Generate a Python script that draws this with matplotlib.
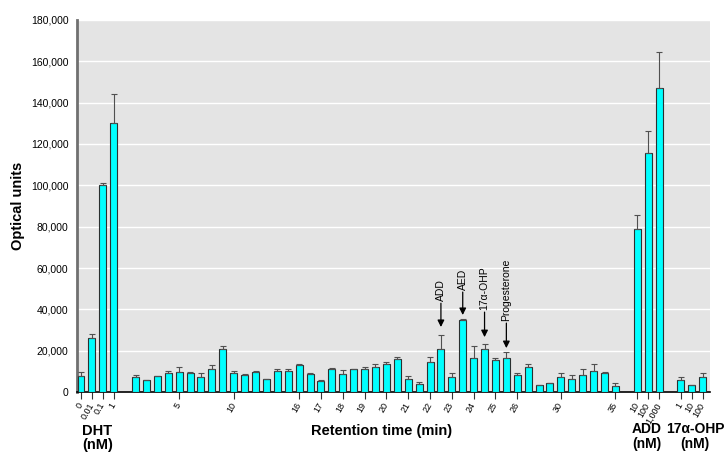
import matplotlib.pyplot as plt
import numpy as np
from matplotlib.transforms import blended_transform_factory

plt.rcParams['font.family'] = ['Liberation Sans', 'DejaVu Sans']

# DHT standards (nM)
dht_labels = ["0", "0.01", "0.1", "1"]
dht_vals = [7600, 26000, 100000, 130000]
dht_err = [2100, 2000, 1000, 14000]

# HPLC fractions, one bar per fraction
ret_vals = [7100, 5700, 7600, 9200, 9700, 9500, 7100, 11000, 20800, 9200,
            8400, 9800, 6300, 10200, 10200, 13200, 8900, 5500, 11300, 8600,
            11000, 11000, 12400, 13700, 15800, 6500, 3900, 14800, 20700, 7100,
            35000, 16300, 20700, 15500, 16300, 8200, 12100, 3400, 4400, 7100,
            6600, 8200, 10000, 9400, 2900]
ret_err = [1000, 200, 300, 1000, 2300, 200, 2100, 2100, 1500, 1000,
           200, 400, 200, 900, 900, 400, 500, 300, 200, 1900,
           100, 1400, 1200, 700, 1000, 1400, 800, 2200, 6900, 2400,
           300, 6000, 2400, 1000, 2900, 1000, 1500, 300, 200, 2100,
           1600, 2900, 3600, 400, 1300]
# retention time (min) -> fraction number it is written under
ret_tick_min = [5, 10, 16, 17, 18, 19, 20, 21, 22, 23, 24, 25, 26, 30, 35]
ret_tick_frac = [5, 10, 16, 18, 20, 22, 24, 26, 28, 30, 32, 34, 36, 40, 45]

# ADD standards (nM)
add_labels = ["10", "100", "1,000"]
add_vals = [79000, 115500, 147000]
add_err = [6500, 11000, 17500]

# 17a-OHP standards (nM)
ohp_labels = ["1", "10", "100"]
ohp_vals = [6100, 3400, 7300]
ohp_err = [1000, 300, 1900]

# peak markers: name, fraction, arrow tip, arrow tail
peak_names = ["ADD", "AED", "17\u03b1-OHP", "Progesterone"]
peak_frac = [29, 31, 33, 35]
peak_tip = [31500, 37300, 26600, 21300]
peak_tail = [43000, 48400, 38700, 33400]

# slot positions on the x axis
dht_x = np.arange(4)
ret_x = np.arange(1, 46) + 4
add_x = np.array([51, 52, 53])
ohp_x = np.array([55, 56, 57])

fig = plt.figure(figsize=(7.25, 4.63), dpi=100)
ax = fig.add_axes([0.106, 0.153, 0.873, 0.804])
ax.set_facecolor('#e4e4e4')

bar_kw = dict(width=0.64, color='#00ffff', edgecolor='#2a3030', linewidth=0.8, zorder=3)
err_kw = dict(ecolor='#505050', elinewidth=0.8, capsize=2, capthick=0.8, zorder=4)
for xs, vals, errs in [(dht_x, dht_vals, dht_err), (ret_x, ret_vals, ret_err),
                       (add_x, add_vals, add_err), (ohp_x, ohp_vals, ohp_err)]:
    ax.bar(xs, vals, yerr=[np.zeros(len(errs)), errs], error_kw=err_kw, **bar_kw)

ax.set_xlim(-0.38, 57.65)
ax.set_ylim(0, 180000)
ax.set_yticks(np.arange(0, 180001, 20000))
ax.set_yticklabels([f"{v:,}" for v in range(0, 180001, 20000)], fontsize=7.5)
ax.yaxis.grid(True, color='white', linewidth=1.0, zorder=0)
ax.set_axisbelow(True)
ax.tick_params(axis='y', length=0, pad=6)
ax.set_ylabel("Optical units", fontsize=10.5, fontweight='bold', labelpad=4)

ticks = list(dht_x) + [f + 4 for f in ret_tick_frac] + list(add_x) + list(ohp_x)
labels = dht_labels + [str(m) for m in ret_tick_min] + add_labels + ohp_labels
ax.set_xticks(ticks)
ax.set_xticklabels(labels, rotation=60, ha='right', va='center',
                   rotation_mode='anchor', fontsize=6.5)
ax.tick_params(axis='x', length=5, width=0.8, color='#333333', pad=3)

for s in ['top', 'right']:
    ax.spines[s].set_visible(False)
ax.spines['left'].set_color('#707070')
ax.spines['left'].set_linewidth(2)
ax.spines['bottom'].set_color('black')
ax.spines['bottom'].set_linewidth(1.2)

for name, f, tip, tail in zip(peak_names, peak_frac, peak_tip, peak_tail):
    x = f + 4
    ax.annotate('', xy=(x, tip), xytext=(x, tail),
                arrowprops=dict(arrowstyle='-|>', color='black', lw=0.9,
                                mutation_scale=10, shrinkA=0, shrinkB=0))
    ax.text(x, tail + 1200, name, rotation=90, ha='center', va='bottom', fontsize=7.5)

tr = blended_transform_factory(ax.transData, fig.transFigure)
grp_kw = dict(transform=tr, ha='center', va='top', fontsize=10.5, fontweight='bold',
              linespacing=1.05)
ax.text(1.5, 0.085, "DHT\n(nM)", **grp_kw)
ax.text(27.6, 0.085, "Retention time (min)", **grp_kw)
grp_kw['fontsize'] = 10
ax.text(51.9, 0.088, "ADD\n(nM)", **grp_kw)
ax.text(56.3, 0.088, "17\u03b1-OHP\n(nM)", **grp_kw)

fig.savefig("out.png", dpi=100)
